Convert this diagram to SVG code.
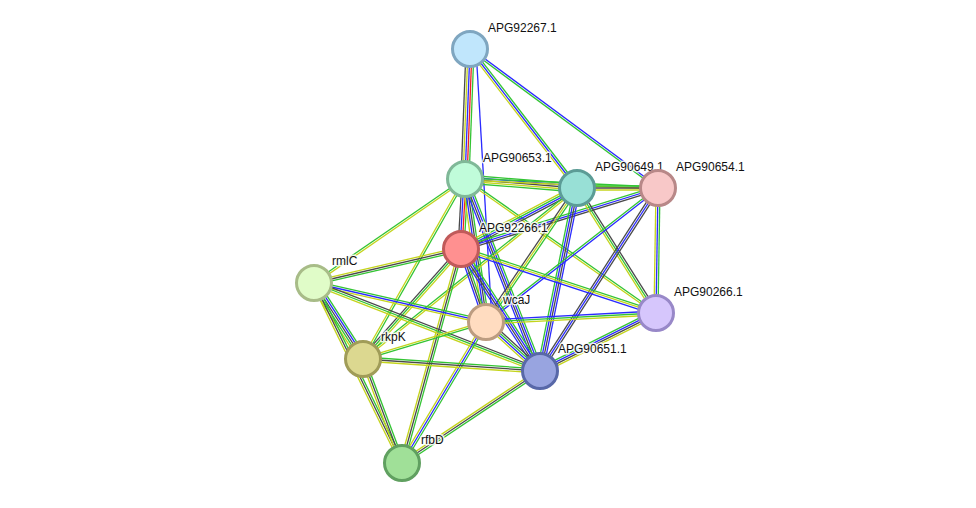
<svg xmlns="http://www.w3.org/2000/svg" width="976" height="508" viewBox="0 0 976 508">
<style>
line{stroke-width:1.3;fill:none}
.g{stroke:#33c433}.y{stroke:#c4d41c}.k{stroke:#4a4a4a}.b{stroke:#2a2aff}.r{stroke:#f02020}
circle{stroke-width:3}
text{font-family:"Liberation Sans",Arial,sans-serif;font-size:12px;fill:#111;stroke:#fff;stroke-width:3px;stroke-opacity:0.85;paint-order:stroke;stroke-linejoin:round}
</style>
<rect width="976" height="508" fill="#fff"/>
<g id="edges">
<g transform="translate(470 49) rotate(92.2)"><line x2="130.1" y1="-4" y2="-4" class="g"/><line x2="130.1" y1="-2" y2="-2" class="r"/><line x2="130.1" y1="0" y2="0" class="b"/><line x2="130.1" y1="2" y2="2" class="y"/><line x2="130.1" y1="4" y2="4" class="k"/></g>
<g transform="translate(470 49) rotate(86.65)"><line x2="273.5" y1="-6" y2="-6" class="b"/></g>
<g transform="translate(470 49) rotate(52.41)"><line x2="175.4" y1="-2" y2="-2" class="g"/><line x2="175.4" y1="0" y2="0" class="b"/><line x2="175.4" y1="2" y2="2" class="y"/></g>
<g transform="translate(470 49) rotate(36.48)"><line x2="233.8" y1="-1" y2="-1" class="b"/><line x2="233.8" y1="1" y2="1" class="g"/></g>
<g transform="translate(465 179) rotate(4.59)"><line x2="112.4" y1="-4" y2="-4" class="g"/><line x2="112.4" y1="-2" y2="-2" class="b"/><line x2="112.4" y1="0" y2="0" class="k"/><line x2="112.4" y1="2" y2="2" class="y"/><line x2="112.4" y1="4" y2="4" class="g"/></g>
<g transform="translate(465 179) rotate(2.67)"><line x2="193.2" y1="-1" y2="-1" class="g"/><line x2="193.2" y1="1" y2="1" class="y"/></g>
<g transform="translate(577 188) rotate(0)"><line x2="81" y1="-2" y2="-2" class="g"/><line x2="81" y1="0" y2="0" class="k"/><line x2="81" y1="2" y2="2" class="y"/></g>
<g transform="translate(465 179) rotate(93.27)"><line x2="70.1" y1="-3" y2="-3" class="g"/><line x2="70.1" y1="-1" y2="-1" class="r"/><line x2="70.1" y1="1" y2="1" class="b"/><line x2="70.1" y1="3" y2="3" class="k"/></g>
<g transform="translate(465 179) rotate(145.44)"><line x2="183.4" y1="-1" y2="-1" class="y"/><line x2="183.4" y1="1" y2="1" class="g"/></g>
<g transform="translate(465 179) rotate(119.54)"><line x2="206.9" y1="-1" y2="-1" class="g"/><line x2="206.9" y1="1" y2="1" class="y"/></g>
<g transform="translate(465 179) rotate(81.65)"><line x2="144.5" y1="-3" y2="-3" class="g"/><line x2="144.5" y1="-1" y2="-1" class="k"/><line x2="144.5" y1="1" y2="1" class="b"/><line x2="144.5" y1="3" y2="3" class="y"/></g>
<g transform="translate(465 179) rotate(68.66)"><line x2="206.1" y1="-3" y2="-3" class="g"/><line x2="206.1" y1="-1" y2="-1" class="b"/><line x2="206.1" y1="1" y2="1" class="k"/><line x2="206.1" y1="3" y2="3" class="b"/></g>
<g transform="translate(465 179) rotate(35.05)"><line x2="233.3" y1="-1" y2="-1" class="g"/><line x2="233.3" y1="1" y2="1" class="y"/></g>
<g transform="translate(577 188) rotate(152.26)"><line x2="131.1" y1="-3" y2="-3" class="k"/><line x2="131.1" y1="-1" y2="-1" class="b"/><line x2="131.1" y1="1" y2="1" class="g"/><line x2="131.1" y1="3" y2="3" class="y"/></g>
<g transform="translate(658 188) rotate(162.79)"><line x2="206.2" y1="-2" y2="-2" class="k"/><line x2="206.2" y1="0" y2="0" class="b"/><line x2="206.2" y1="2" y2="2" class="g"/></g>
<g transform="translate(363 359) rotate(-48.3)"><line x2="147.3" y1="-2" y2="-2" class="k"/><line x2="147.3" y1="0" y2="0" class="g"/><line x2="147.3" y1="2" y2="2" class="y"/></g>
<g transform="translate(363 359) rotate(-38.63)"><line x2="273.9" y1="-1" y2="-1" class="g"/><line x2="273.9" y1="1" y2="1" class="y"/></g>
<g transform="translate(577 188) rotate(124.18)"><line x2="162" y1="-2" y2="-2" class="g"/><line x2="162" y1="0" y2="0" class="y"/><line x2="162" y1="2" y2="2" class="k"/></g>
<g transform="translate(577 188) rotate(101.43)"><line x2="186.7" y1="-3" y2="-3" class="b"/><line x2="186.7" y1="-1" y2="-1" class="k"/><line x2="186.7" y1="1" y2="1" class="b"/><line x2="186.7" y1="3" y2="3" class="g"/></g>
<g transform="translate(577 188) rotate(57.71)"><line x2="147.9" y1="-2" y2="-2" class="k"/><line x2="147.9" y1="0" y2="0" class="g"/><line x2="147.9" y1="2" y2="2" class="y"/></g>
<g transform="translate(658 188) rotate(142.08)"><line x2="218" y1="-1" y2="-1" class="b"/><line x2="218" y1="1" y2="1" class="g"/></g>
<g transform="translate(658 188) rotate(122.81)"><line x2="217.7" y1="-2" y2="-2" class="k"/><line x2="217.7" y1="0" y2="0" class="b"/><line x2="217.7" y1="2" y2="2" class="k"/></g>
<g transform="translate(658 188) rotate(90.92)"><line x2="125" y1="-2" y2="-2" class="g"/><line x2="125" y1="0" y2="0" class="b"/><line x2="125" y1="2" y2="2" class="y"/></g>
<g transform="translate(461 249) rotate(166.98)"><line x2="150.9" y1="-2" y2="-2" class="g"/><line x2="150.9" y1="0" y2="0" class="k"/><line x2="150.9" y1="2" y2="2" class="y"/></g>
<g transform="translate(461 249) rotate(71.1)"><line x2="77.2" y1="-2" y2="-2" class="g"/><line x2="77.2" y1="0" y2="0" class="k"/><line x2="77.2" y1="2" y2="2" class="b"/></g>
<g transform="translate(461 249) rotate(57.07)"><line x2="145.3" y1="-3" y2="-3" class="g"/><line x2="145.3" y1="-1" y2="-1" class="b"/><line x2="145.3" y1="1" y2="1" class="k"/><line x2="145.3" y1="3" y2="3" class="b"/></g>
<g transform="translate(461 249) rotate(18.17)"><line x2="205.2" y1="-2" y2="-2" class="g"/><line x2="205.2" y1="0" y2="0" class="y"/><line x2="205.2" y1="2" y2="2" class="b"/></g>
<g transform="translate(461 249) rotate(105.41)"><line x2="222" y1="-2" y2="-2" class="g"/><line x2="222" y1="0" y2="0" class="k"/><line x2="222" y1="2" y2="2" class="y"/></g>
<g transform="translate(314 283) rotate(57.19)"><line x2="90.4" y1="-4" y2="-4" class="g"/><line x2="90.4" y1="-2" y2="-2" class="b"/><line x2="90.4" y1="0" y2="0" class="k"/><line x2="90.4" y1="2" y2="2" class="g"/><line x2="90.4" y1="4" y2="4" class="y"/></g>
<g transform="translate(314 283) rotate(12.78)"><line x2="176.4" y1="-2" y2="-2" class="g"/><line x2="176.4" y1="0" y2="0" class="b"/><line x2="176.4" y1="2" y2="2" class="y"/></g>
<g transform="translate(314 283) rotate(21.27)"><line x2="242.5" y1="-2" y2="-2" class="k"/><line x2="242.5" y1="0" y2="0" class="g"/><line x2="242.5" y1="2" y2="2" class="y"/></g>
<g transform="translate(314 283) rotate(63.95)"><line x2="200.4" y1="-2" y2="-2" class="g"/><line x2="200.4" y1="0" y2="0" class="k"/><line x2="200.4" y1="2" y2="2" class="y"/></g>
<g transform="translate(486 322) rotate(163.26)"><line x2="128.4" y1="-1" y2="-1" class="g"/><line x2="128.4" y1="1" y2="1" class="y"/></g>
<g transform="translate(486 322) rotate(42.22)"><line x2="72.9" y1="-3" y2="-3" class="k"/><line x2="72.9" y1="-1" y2="-1" class="g"/><line x2="72.9" y1="1" y2="1" class="b"/><line x2="72.9" y1="3" y2="3" class="y"/></g>
<g transform="translate(486 322) rotate(-3.03)"><line x2="170.2" y1="-2" y2="-2" class="b"/><line x2="170.2" y1="0" y2="0" class="g"/><line x2="170.2" y1="2" y2="2" class="y"/></g>
<g transform="translate(486 322) rotate(120.79)"><line x2="164.1" y1="-2" y2="-2" class="g"/><line x2="164.1" y1="0" y2="0" class="b"/><line x2="164.1" y1="2" y2="2" class="y"/></g>
<g transform="translate(363 359) rotate(3.88)"><line x2="177.4" y1="-2" y2="-2" class="g"/><line x2="177.4" y1="0" y2="0" class="k"/><line x2="177.4" y1="2" y2="2" class="y"/></g>
<g transform="translate(363 359) rotate(69.44)"><line x2="111.1" y1="-2" y2="-2" class="g"/><line x2="111.1" y1="0" y2="0" class="k"/><line x2="111.1" y1="2" y2="2" class="y"/></g>
<g transform="translate(540 371) rotate(-26.57)"><line x2="129.7" y1="-3" y2="-3" class="g"/><line x2="129.7" y1="-1" y2="-1" class="b"/><line x2="129.7" y1="1" y2="1" class="k"/><line x2="129.7" y1="3" y2="3" class="y"/></g>
<g transform="translate(540 371) rotate(146.31)"><line x2="165.9" y1="-2" y2="-2" class="g"/><line x2="165.9" y1="0" y2="0" class="k"/><line x2="165.9" y1="2" y2="2" class="y"/></g>
</g>
<g id="n-APG92267"><circle cx="470" cy="49" r="17.5" fill="#c0e6fc" stroke="#7fa6c0"/><text x="488" y="32">APG92267.1</text></g>
<g id="n-APG90653"><circle cx="465" cy="179" r="17.5" fill="#c0fcda" stroke="#80b898"/><text x="483" y="162">APG90653.1</text></g>
<g id="n-APG90649"><circle cx="577" cy="188" r="17.5" fill="#98e0d6" stroke="#5c9c96"/><text x="595" y="171">APG90649.1</text></g>
<g id="n-APG90654"><circle cx="658" cy="188" r="17.5" fill="#f8c8c8" stroke="#b88888"/><text x="676" y="171">APG90654.1</text></g>
<g id="n-APG92266"><circle cx="461" cy="249" r="17.5" fill="#ff9090" stroke="#c05a5a"/><text x="479" y="232">APG92266.1</text></g>
<g id="n-rmlC"><circle cx="314" cy="283" r="17.5" fill="#e0fcc8" stroke="#a8bc88"/><text x="332" y="265">rmlC</text></g>
<g id="n-wcaJ"><circle cx="486" cy="322" r="17.5" fill="#ffdcc0" stroke="#bc9c80"/><text x="503" y="304">wcaJ</text></g>
<g id="n-APG90266"><circle cx="656" cy="313" r="17.5" fill="#d6c6fc" stroke="#9888c8"/><text x="674" y="296">APG90266.1</text></g>
<g id="n-rkpK"><circle cx="363" cy="359" r="17.5" fill="#dcd890" stroke="#a09c58"/><text x="381" y="341">rkpK</text></g>
<g id="n-APG90651"><circle cx="540" cy="371" r="17.5" fill="#98a4e0" stroke="#5868a8"/><text x="558" y="353">APG90651.1</text></g>
<g id="n-rfbD"><circle cx="402" cy="463" r="17.5" fill="#a0e098" stroke="#60a060"/><text x="421" y="444">rfbD</text></g>
</svg>
